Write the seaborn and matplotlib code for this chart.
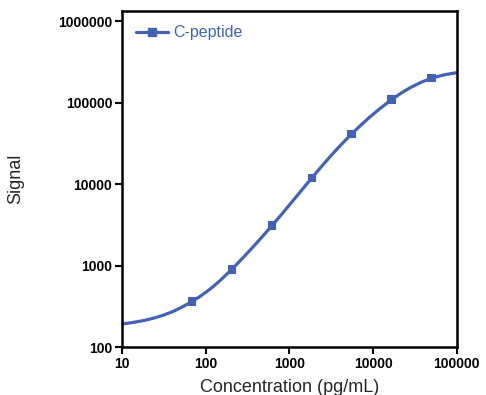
import numpy as np
import pandas as pd
import matplotlib
matplotlib.use("Agg")
import matplotlib.pyplot as plt
from matplotlib.lines import Line2D
from matplotlib.ticker import NullLocator, FuncFormatter
import seaborn as sns

# standards (3-fold dilutions) and measured signal
conc = [68.6, 206, 617, 1852, 5556, 16667, 50000]
signal = [362, 898, 3080, 11900, 41400, 109400, 199500]

# fitted curve
curve_x = [10, 12.6, 16.4, 20, 25, 31.6, 40, 49.3, 58, 68.6, 85, 104, 123, 150,
           206, 280, 355, 460, 617, 800, 1070, 1400, 1852, 2400, 3160, 4200,
           5556, 7000, 9150, 12000, 16667, 22000, 28800, 38000, 50000, 70800,
           100000]
curve_y = [192, 198, 207, 216, 229, 247, 271, 300, 328, 362, 416, 482, 553, 661,
           902, 1252, 1626, 2184, 3080, 4207, 6026, 8410, 11900, 16330, 22530,
           30900, 41330, 51950, 66660, 84170, 109100, 132500, 155800, 178900,
           199700, 219400, 233300]

blue = "#4262B5"
series = "C-peptide"

sns.set_theme(style="ticks")
plt.rcParams['font.family'] = ['Liberation Sans', 'DejaVu Sans']

fig = plt.figure(figsize=(4.86, 3.95), dpi=100)
ax = fig.add_axes([0.251, 0.1215, 0.689, 0.8505])

curve = pd.DataFrame({"x": curve_x, "y": curve_y})
pts = pd.DataFrame({"x": conc, "y": signal})
sns.lineplot(data=curve, x="x", y="y", ax=ax, color=blue, linewidth=2.3,
             estimator=None, sort=True)
sns.scatterplot(data=pts, x="x", y="y", ax=ax, color=blue, marker="s",
                s=38, edgecolor="none", zorder=3)

ax.set_xscale("log")
ax.set_yscale("log")
ax.set_xticks([10, 100, 1000, 10000, 100000])
ax.set_yticks([100, 1000, 10000, 100000, 1000000])
ax.xaxis.set_minor_locator(NullLocator())
ax.yaxis.set_minor_locator(NullLocator())
fmt = FuncFormatter(lambda v, p: f"{int(round(v))}")
ax.xaxis.set_major_formatter(fmt)
ax.yaxis.set_major_formatter(fmt)
ax.set_xlim(10, 100000)
ax.set_ylim(100, 1.33e6)

for s in ax.spines.values():
    s.set_linewidth(1.8)
    s.set_color("black")
ax.tick_params(axis="both", which="major", length=5, width=1.5,
               labelsize=10, pad=2, colors="black")
for lab in ax.get_xticklabels() + ax.get_yticklabels():
    lab.set_fontweight("bold")

ax.set_xlabel("Concentration (pg/mL)", fontsize=13, va="baseline")
ax.set_ylabel("Signal", fontsize=13, va="center")
ax.xaxis.set_label_coords(0.5, -0.134)
ax.yaxis.set_label_coords(-0.316, 0.5)

handle = Line2D([], [], color=blue, linewidth=2.3, marker="s", markersize=5.5)
leg = ax.legend([handle], [series], loc="upper left", frameon=False,
                fontsize=11.5, handlelength=2.0, handletextpad=0.3,
                bbox_to_anchor=(0.0, 1.0))
for t in leg.get_texts():
    t.set_color(blue)

fig.savefig("out.png", dpi=100)
